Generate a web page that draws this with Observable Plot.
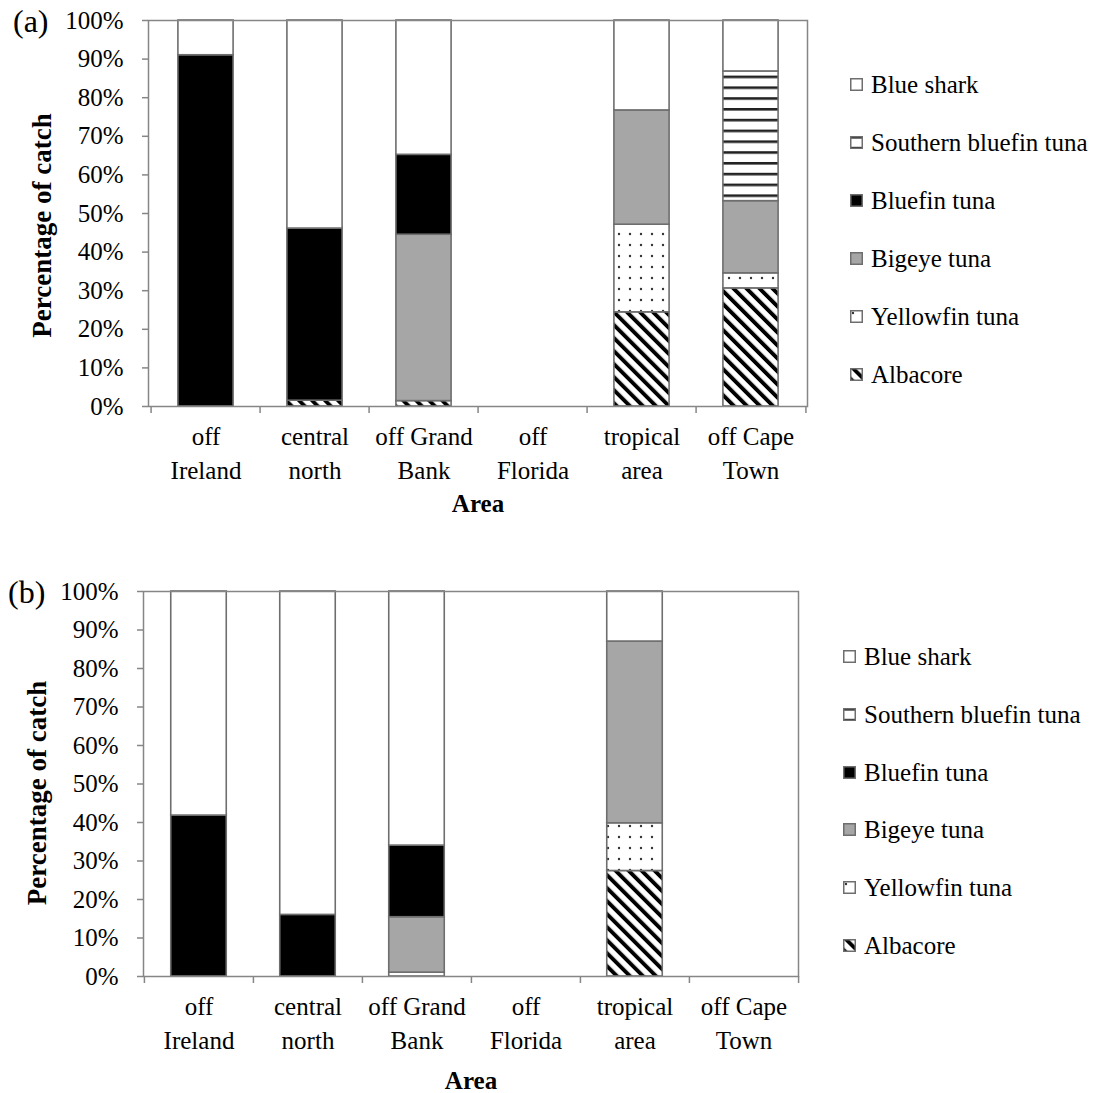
<!DOCTYPE html>
<html><head><meta charset="utf-8">
<script src="https://cdn.jsdelivr.net/npm/d3@7"></script>
<script src="https://cdn.jsdelivr.net/npm/@observablehq/plot@0.6"></script>
<style>
body{margin:0;background:#fff;}
#root{position:relative;width:1109px;height:1093px;font-family:"Liberation Serif","Times New Roman",serif;color:#000;}
.panel{position:absolute;left:0;}
.tag{position:absolute;font-size:32px;line-height:1;}
.item{position:absolute;display:flex;align-items:center;white-space:nowrap;font-size:25px;line-height:1;}
.item svg{margin-right:8px;}
</style></head><body>
<svg width="0" height="0" style="position:absolute">
<defs>
<pattern id="pAlb" patternUnits="userSpaceOnUse" width="9.2" height="9.2" patternTransform="rotate(-45)">
<rect width="9.2" height="9.2" fill="#fff"/><rect width="3.9" height="9.2" fill="#000"/>
</pattern>
<pattern id="pYel" patternUnits="userSpaceOnUse" width="11" height="11">
<rect width="11" height="11" fill="#fff"/><circle cx="3" cy="3" r="1.2" fill="#333"/>
</pattern>
<pattern id="pSth" patternUnits="userSpaceOnUse" width="10.8" height="10.8">
<rect width="10.8" height="10.8" fill="#fff"/><rect y="0" width="10.8" height="2.6" fill="#222"/>
</pattern>
</defs>
</svg>
<div id="root"></div>
<script>
// ---- data ----
const areas = ["off Ireland", "central north", "off Grand Bank", "off Florida", "tropical area", "off Cape Town"];
const areaLabels = ["off\nIreland", "central\nnorth", "off Grand\nBank", "off\nFlorida", "tropical\narea", "off Cape\nTown"];
// stacking order, bottom to top
const species = ["Albacore", "Yellowfin tuna", "Bigeye tuna", "Bluefin tuna", "Southern bluefin tuna", "Blue shark"];
const speciesFills = ["url(#pAlb)", "url(#pYel)", "#a6a6a6", "#000000", "url(#pSth)", "#ffffff"];
const yTicks = [0, 10, 20, 30, 40, 50, 60, 70, 80, 90, 100];
const yTitle = "Percentage of catch";
const xTitle = "Area";

// panel (a) percentages per species, by area
const albacoreA = [0, 1.5, 1.4, 0, 24.4, 30.6];
const yellowfinA = [0, 0, 0, 0, 22.7, 3.9];
const bigeyeA = [0, 0, 43.1, 0, 29.6, 18.7];
const bluefinA = [91, 44.6, 20.7, 0, 0, 0];
const southernA = [0, 0, 0, 0, 0, 33.6];
const blueSharkA = [9, 53.9, 34.8, 0, 23.3, 13.2];

// panel (b)
const albacoreB = [0, 0, 0, 0, 27.4, 0];
const yellowfinB = [0, 0, 1, 0, 12.4, 0];
const bigeyeB = [0, 0, 14.4, 0, 47.2, 0];
const bluefinB = [41.8, 16, 18.6, 0, 0, 0];
const southernB = [0, 0, 0, 0, 0, 0];
const blueSharkB = [58.2, 84, 66, 0, 13, 0];

const panelA = [albacoreA, yellowfinA, bigeyeA, bluefinA, southernA, blueSharkA];
const panelB = [albacoreB, yellowfinB, bigeyeB, bluefinB, southernB, blueSharkB];

const labelOf = Object.fromEntries(areas.map((a, i) => [a, areaLabels[i]]));

function rowsOf(series) {
  const rows = [];
  series.forEach((vals, si) => vals.forEach((v, ai) => {
    if (v > 0) rows.push({area: areas[ai], species: species[si], value: v});
  }));
  return rows;
}

const root = document.getElementById("root");

function panel(series, cfg) {
  const W = 820, H = 540;
  const bw = (W - cfg.ml - cfg.mr) / areas.length;
  const axisColor = "#868686";
  const chart = Plot.plot({
    width: W, height: H,
    marginLeft: cfg.ml, marginRight: cfg.mr, marginTop: cfg.mt, marginBottom: cfg.mb,
    style: {fontFamily: '"Liberation Serif","Times New Roman",serif', fontSize: "25px", color: "#000", background: "transparent", overflow: "visible"},
    x: {domain: areas, paddingInner: 0, paddingOuter: 0, axis: null},
    y: {domain: [0, 100], axis: null},
    color: {domain: species, range: speciesFills},
    marks: [
      Plot.barY(rowsOf(series), Plot.stackY({x: "area", y: "value", fill: "species", stroke: "#6e6e6e", strokeWidth: 1.6, insetLeft: bw * 0.245, insetRight: bw * 0.245})),
      Plot.frame({stroke: axisColor, strokeWidth: 1.5}),
      Plot.axisY({ticks: yTicks, tickFormat: d => d + "%", tickSize: 6, tickPadding: 19, stroke: axisColor, strokeWidth: 1.5, fill: "#000", label: null, fontSize: 25}),
      Plot.axisX({ticks: areas, tickSize: 7, tickFormat: () => "", dx: -bw / 2, stroke: axisColor, strokeWidth: 1.5, label: null}),
      Plot.axisX({ticks: [areas[areas.length - 1]], tickSize: 7, tickFormat: () => "", dx: bw / 2, stroke: axisColor, strokeWidth: 1.5, label: null}),
      Plot.axisX({ticks: areas, tickSize: 0, tickPadding: 14, tickFormat: d => labelOf[d], lineHeight: 1.36, fill: "#000", label: null, fontSize: 25}),
      Plot.text([yTitle], {text: d => d, frameAnchor: "left", textAnchor: "middle", lineAnchor: "middle", dx: cfg.ytx, dy: cfg.yty, rotate: -90, fontWeight: "bold", fontSize: 27, fill: "#000"}),
      Plot.text([xTitle], {text: d => d, frameAnchor: "bottom", lineAnchor: "middle", dy: cfg.xty, fontWeight: "bold", fontSize: 25, fill: "#000"})
    ]
  });
  const wrap = document.createElement("div");
  wrap.className = "panel";
  wrap.style.top = cfg.top + "px";
  wrap.appendChild(chart);
  root.appendChild(wrap);

  const tag = document.createElement("div");
  tag.className = "tag";
  tag.textContent = cfg.tag;
  tag.style.left = cfg.tagX + "px";
  tag.style.top = cfg.tagY + "px";
  root.appendChild(tag);

  // legend (top-to-bottom = reverse of stacking order)
  const order = species.map((s, i) => i).reverse();
  order.forEach((si, k) => {
    const it = document.createElement("div");
    it.className = "item";
    it.style.left = cfg.legX + "px";
    it.style.top = (cfg.legY + k * cfg.legStep - 13) + "px";
    it.innerHTML = `<svg width="13" height="13"><rect x="0.75" y="0.75" width="11.5" height="11.5" fill="${speciesFills[si]}" stroke="#6e6e6e" stroke-width="1.5"/></svg><span>${species[si]}</span>`;
    root.appendChild(it);
  });
}

panel(panelA, {top: 0, ml: 148, mr: 13, mt: 20, mb: 134, ytx: -106, yty: 12, xty: 97, tag: "(a)", tagX: 13, tagY: 5, legX: 850, legY: 85, legStep: 58});
panel(panelB, {top: 570, ml: 143, mr: 22, mt: 21, mb: 134, ytx: -106, yty: 9, xty: 104, tag: "(b)", tagX: 8, tagY: 576, legX: 843, legY: 657, legStep: 57.8});
</script>
</body></html>
